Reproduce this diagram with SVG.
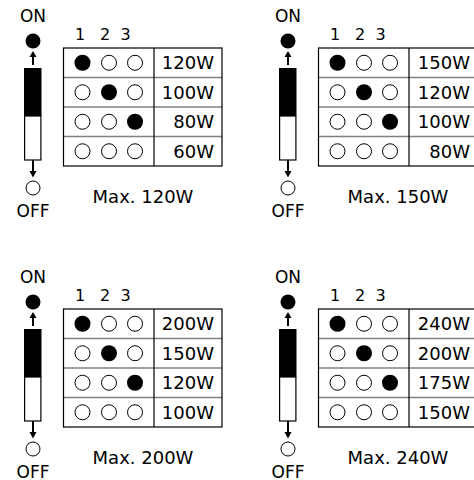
<svg xmlns="http://www.w3.org/2000/svg" width="474" height="480" viewBox="0 0 474 480">
<style>
text{font-family:"DejaVu Sans","Liberation Sans",sans-serif;fill:#000}
.lbl{font-size:17px;text-anchor:middle}
.hdr{font-size:16px;text-anchor:middle}
.val{font-size:18px;text-anchor:end}
.max{font-size:18px;text-anchor:middle}
.on{fill:#000}
.off{fill:#fff;stroke:#000;stroke-width:1}
.frame{fill:none;stroke:#000;stroke-width:1.2}
.row{stroke:#808080;stroke-width:1.5}
.div{stroke:#000;stroke-width:1.2}
.stem{stroke:#000;stroke-width:2}
</style>
<defs>
<g id="switch">
<text class="lbl" x="33" y="21.5">ON</text>
<circle class="on" cx="33" cy="41" r="7.5"/>
<line class="stem" x1="33" y1="65" x2="33" y2="56"/>
<polygon points="29.5,57 36.5,57 33,51"/>
<rect x="24" y="68" width="17.5" height="48" fill="#000"/>
<rect x="24.6" y="116" width="16.3" height="44" fill="#fff" stroke="#000" stroke-width="1.2"/>
<line class="stem" x1="33" y1="160" x2="33" y2="172"/>
<polygon points="29.5,171 36.5,171 33,177.5"/>
<circle class="off" cx="33" cy="188" r="7"/>
<text class="lbl" x="33" y="217">OFF</text>
</g>
<g id="grid">
<text class="hdr" x="80 92.5 105 115.5 125.5" y="39.5">1 2 3</text>
<line class="row" x1="63.5" y1="77.5" x2="222" y2="77.5"/>
<line class="row" x1="63.5" y1="107" x2="222" y2="107"/>
<line class="row" x1="63.5" y1="136.5" x2="222" y2="136.5"/>
<rect class="frame" x="63.5" y="48" width="158.5" height="118"/>
<line class="div" x1="154" y1="48" x2="154" y2="166"/>
<circle class="on" cx="82.5" cy="62.75" r="8"/>
<circle class="off" cx="109" cy="62.75" r="7.5"/>
<circle class="off" cx="135" cy="62.75" r="7.5"/>
<circle class="off" cx="82.5" cy="92.25" r="7.5"/>
<circle class="on" cx="109" cy="92.25" r="8"/>
<circle class="off" cx="135" cy="92.25" r="7.5"/>
<circle class="off" cx="82.5" cy="121.75" r="7.5"/>
<circle class="off" cx="109" cy="121.75" r="7.5"/>
<circle class="on" cx="135" cy="121.75" r="8"/>
<circle class="off" cx="82.5" cy="151.25" r="7.5"/>
<circle class="off" cx="109" cy="151.25" r="7.5"/>
<circle class="off" cx="135" cy="151.25" r="7.5"/>
</g>
</defs>
<g id="panel-120W">
<use href="#switch"/>
<use href="#grid"/>
<text class="val" x="214" y="69.25">120W</text>
<text class="val" x="214" y="98.75">100W</text>
<text class="val" x="214" y="128.25">80W</text>
<text class="val" x="214" y="157.75">60W</text>
<text class="max" x="143" y="203">Max. 120W</text>
</g>
<g id="panel-150W" transform="translate(255,0)">
<use href="#switch"/>
<use href="#grid"/>
<text class="val" x="215" y="69.25">150W</text>
<text class="val" x="215" y="98.75">120W</text>
<text class="val" x="215" y="128.25">100W</text>
<text class="val" x="215" y="157.75">80W</text>
<text class="max" x="143" y="203">Max. 150W</text>
</g>
<g id="panel-200W" transform="translate(0,261)">
<use href="#switch"/>
<use href="#grid"/>
<text class="val" x="214" y="69.25">200W</text>
<text class="val" x="214" y="98.75">150W</text>
<text class="val" x="214" y="128.25">120W</text>
<text class="val" x="214" y="157.75">100W</text>
<text class="max" x="143" y="203">Max. 200W</text>
</g>
<g id="panel-240W" transform="translate(255,261)">
<use href="#switch"/>
<use href="#grid"/>
<text class="val" x="215" y="69.25">240W</text>
<text class="val" x="215" y="98.75">200W</text>
<text class="val" x="215" y="128.25">175W</text>
<text class="val" x="215" y="157.75">150W</text>
<text class="max" x="143" y="203">Max. 240W</text>
</g>
</svg>
